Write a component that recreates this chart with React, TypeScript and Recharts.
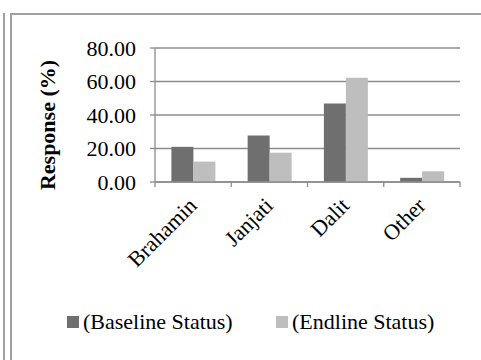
import React from 'react';
import { BarChart, Bar, XAxis, YAxis, CartesianGrid } from 'recharts';

const categories = ['Brahamin', 'Janjati', 'Dalit', 'Other'];
const baseline = [21, 27.8, 46.8, 2.5];
const endline = [12.2, 17.5, 62.2, 6.4];
const yTicks = [0, 20, 40, 60, 80];
const seriesNames = ['(Baseline Status)', '(Endline Status)'];

const data = categories.map((name, i) => ({
  name,
  baseline: baseline[i],
  endline: endline[i],
}));

const FONT = '"Liberation Serif", serif';
const GRID = '#8c8c8c';
const DARK = '#6f6f6f';
const LIGHT = '#bebebe';

// category labels rotated like Excel, plus tick marks at the category edges
const CategoryTick = (props: any) => {
  const { x, y, payload, index } = props;
  const half = payload.offset || 0;
  const tx = x + 5;
  const ty = y + 25;
  const last = index === categories.length - 1;
  return (
    <g>
      <line x1={x - half} x2={x - half} y1={y} y2={y + 5} stroke={GRID} strokeWidth={1.3} />
      {last && <line x1={x + half} x2={x + half} y1={y} y2={y + 5} stroke={GRID} strokeWidth={1.3} />}
      <text
        x={tx}
        y={ty}
        textAnchor="end"
        fontSize={22}
        fontFamily={FONT}
        fill="#000"
        transform={`rotate(-45, ${tx}, ${ty})`}
      >
        {payload.value}
      </text>
    </g>
  );
};

const YLabel = () => (
  <text
    x={55}
    y={125}
    textAnchor="middle"
    fontSize={22}
    fontWeight="bold"
    fontFamily={FONT}
    fill="#000"
    transform="rotate(-90, 55, 125)"
  >
    Response (%)
  </text>
);

export default function App() {
  const frame = { position: 'absolute' as const, background: '#a0a0a0' };
  return (
    <div style={{ position: 'fixed', left: 0, top: 0, width: 481, height: 360, background: '#fff', overflow: 'hidden' }}>
      <div style={{ ...frame, left: 3, top: 13, width: 2, height: 347 }} />
      <div style={{ ...frame, left: 10, top: 13, width: 2, height: 347 }} />
      <div style={{ ...frame, left: 10, top: 13, width: 471, height: 2 }} />

      <div style={{ position: 'absolute', left: 0, top: 0 }}>
        <BarChart
          width={481}
          height={360}
          data={data}
          margin={{ top: 48, right: 21, left: 0, bottom: 118 }}
          barCategoryGap="21.5%"
          barGap={0}
        >
          <CartesianGrid vertical={false} stroke={GRID} strokeWidth={1.3} />
          <XAxis
            dataKey="name"
            axisLine={{ stroke: GRID, strokeWidth: 1.3 }}
            tickLine={false}
            tickSize={0}
            tickMargin={0}
            height={60}
            interval={0}
            tick={<CategoryTick />}
          />
          <YAxis
            width={155}
            domain={[0, 80]}
            ticks={yTicks}
            tickFormatter={(v: number) => v.toFixed(2)}
            tickSize={5}
            tickMargin={14}
            axisLine={{ stroke: GRID, strokeWidth: 1.3 }}
            tickLine={{ stroke: GRID, strokeWidth: 1.3 }}
            tick={{ fontSize: 22, fontFamily: FONT, fill: '#000' }}
            label={<YLabel />}
          />
          <Bar dataKey="baseline" fill={DARK} isAnimationActive={false} />
          <Bar dataKey="endline" fill={LIGHT} isAnimationActive={false} />
        </BarChart>
      </div>

      {seriesNames.map((name, i) => (
        <div
          key={name}
          style={{
            position: 'absolute',
            left: i === 0 ? 67 : 276,
            top: 309,
            display: 'flex',
            alignItems: 'center',
            fontFamily: FONT,
            fontSize: 22,
            lineHeight: '26px',
            color: '#000',
            whiteSpace: 'nowrap',
          }}
        >
          <span style={{ display: 'inline-block', width: 12, height: 12, background: i === 0 ? DARK : LIGHT, marginRight: 4 }} />
          {name}
        </div>
      ))}
    </div>
  );
}
